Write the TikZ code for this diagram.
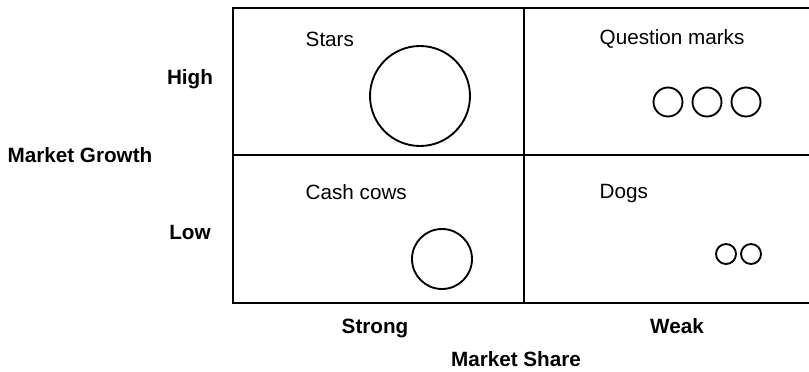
\documentclass[tikz,border=0pt]{standalone}
\usepackage{fontspec}
\setmainfont{Liberation Sans}
\usetikzlibrary{positioning}

\begin{document}
\begin{tikzpicture}[
    x=0.75pt, y=-0.75pt,
    grid/.style={line width=1.5pt},
    firm/.style={circle, draw, line width=1.4pt, inner sep=0pt},
    quad/.style={font=\fontsize{15.5}{18}\selectfont, anchor=west, text height=1.6ex, text depth=0.5ex},
    axis/.style={font=\fontsize{15.5}{18}\selectfont\bfseries, text height=1.6ex, text depth=0.5ex}
]
\useasboundingbox (0,0) rectangle (809,371);
\draw[grid] (809,8) -- (233,8) -- (233,303) -- (809,303);
\draw[grid] (233,155) -- (809,155);
\draw[grid] (524,8) -- (524,303);

\node[quad] (stars) at (301,43) {Stars};
\node[quad] (qmarks) at (595,41) {Question marks};
\node[quad] (cows) at (301,196) {Cash cows};
\node[quad] (dogs) at (595,195) {Dogs};

\node[firm, minimum size=75pt] (star1) at (420,96) {};
\foreach \x [count=\i] in {668,707,746}
    \node[firm, minimum size=21.75pt] (qm\i) at (\x,102) {};
\node[firm, minimum size=45pt] (cow1) at (442,259) {};
\foreach \x [count=\i] in {726,751}
    \node[firm, minimum size=15pt] (dog\i) at (\x,254) {};

\node[axis] (high) at (190,81) {High};
\node[axis] (low) at (190,236) {Low};
\node[axis] (growth) at (80,159) {Market Growth};
\node[axis] (strong) at (375,330) {Strong};
\node[axis] (weak) at (677,330) {Weak};
\node[axis] (share) at (516,363) {Market Share};
\end{tikzpicture}
\end{document}
